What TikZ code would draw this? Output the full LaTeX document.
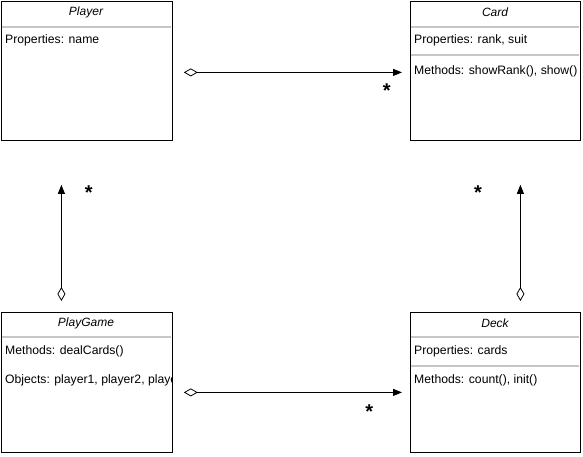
\documentclass[tikz,border=0pt]{standalone}
\usepackage{fontspec}
\setmainfont{Liberation Sans}
\usetikzlibrary{arrows.meta}
\tikzset{
  classbox/.style={draw, thick, anchor=north west, inner sep=0pt},
  classtitle/.style={font=\fontsize{12}{14}\selectfont\itshape},
  member/.style={anchor=west, inner sep=0pt, font=\fontsize{12.2}{14}\selectfont},
  divider/.style={gray!45, line width=1.4pt},
  agg/.style={{Diamond[open,length=14pt,width=8pt]}-{Triangle[length=9pt,width=7pt]}, thick},
  mult/.style={font=\fontsize{20}{20}\selectfont\bfseries, inner sep=0pt}
}
\begin{document}
\begin{tikzpicture}[x=1pt,y=-1pt]
    \useasboundingbox[fill=white] (0,0) rectangle (583,457);

    % Player
    \node[classbox, minimum width=171pt, minimum height=139pt] (player) at (1,1) {};
    \draw[divider] (2,27) -- (171,27);
    \node[classtitle] (playerT) at (86,12) {Player};
    \node[member] (playerP) at (5,40) {Properties: name};

    % Card
    \node[classbox, minimum width=170pt, minimum height=139pt] (card) at (410,1) {};
    \draw[divider] (411,27) -- (579,27);
    \draw[divider] (411,55) -- (579,55);
    \node[classtitle] (cardT) at (495,12) {Card};
    \node[member] (cardP) at (414,40) {Properties: rank, suit};
    \node[member] (cardM) at (414,71) {Methods: showRank(), show()};

    % PlayGame
    \node[classbox, minimum width=171pt, minimum height=140pt] (game) at (1,312) {};
    \draw[divider] (2,337) -- (171,337);
    \node[classtitle] (gameT) at (86,323) {PlayGame};
    \node[member] (gameM) at (5,351) {Methods: dealCards()};
    \begin{scope}
      \clip (2,313) rectangle (171,451);
      \node[member] (gameO) at (5,380) {Objects: player1, player2, player3};
    \end{scope}

    % Deck
    \node[classbox, minimum width=170pt, minimum height=140pt] (deck) at (410,312) {};
    \draw[divider] (411,337) -- (579,337);
    \draw[divider] (411,366) -- (579,366);
    \node[classtitle] (deckT) at (495,323) {Deck};
    \node[member] (deckP) at (414,351) {Properties: cards};
    \node[member] (deckM) at (414,380) {Methods: count(), init()};

    % Associations
    \draw[agg] ([shift={(11,1.5)}]player.east) -- ([shift={(-8,1.5)}]card.west)
      node[mult, pos=0.93, below=11pt] (m1) {*};
    \draw[agg] ([shift={(-25.5,-11)}]game.north) -- ([shift={(-25.5,44)}]player.south)
      node[mult, pos=0.93, right=23pt] (m2) {*};
    \draw[agg] ([shift={(25,-11)}]deck.north) -- ([shift={(25,44)}]card.south)
      node[mult, pos=0.93, left=38pt] (m3) {*};
    \draw[agg] ([shift={(11,10)}]game.east) -- ([shift={(-8,10)}]deck.west)
      node[mult, pos=0.85, below=12pt] (m4) {*};
\end{tikzpicture}
\end{document}
